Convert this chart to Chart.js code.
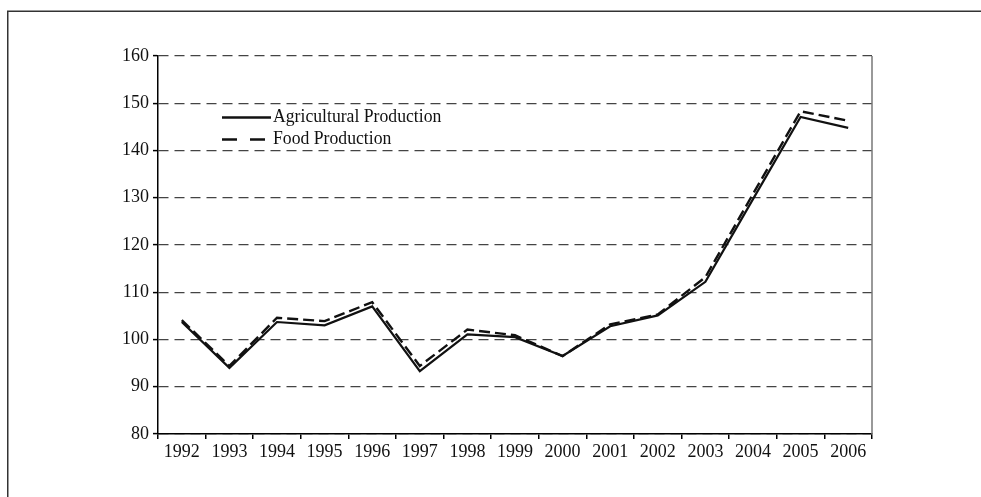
<!DOCTYPE html>
<html>
<head>
<meta charset="utf-8">
<script src="https://cdn.jsdelivr.net/npm/chart.js@4/dist/chart.umd.min.js"></script>
<style>
html,body{margin:0;padding:0;background:#fff;}
#wrap{position:relative;width:981px;height:497px;}
canvas{display:block;}
</style>
</head>
<body>
<div id="wrap"><canvas id="c" width="981" height="497"></canvas></div>
<script>
const years = ['1992','1993','1994','1995','1996','1997','1998','1999','2000','2001','2002','2003','2004','2005','2006'];
const agricultural = [103.7, 94.0, 103.7, 103.0, 107.0, 93.3, 101.1, 100.5, 96.5, 102.8, 105.1, 112.2, 129.7, 147.1, 144.8];
const food = [104.1, 94.4, 104.6, 103.9, 107.9, 94.4, 102.1, 100.9, 96.5, 103.2, 105.3, 113.2, 130.8, 148.3, 146.3];
const seriesNames = ['Agricultural Production', 'Food Production'];
const yTicks = [80, 90, 100, 110, 120, 130, 140, 150, 160];

const FONT = 'Liberation Serif';

const framePlugin = {
  id: 'frame',
  beforeDraw(chart) {
    const ctx = chart.ctx;
    ctx.save();
    ctx.fillStyle = '#fff';
    ctx.fillRect(0, 0, chart.width, chart.height);
    ctx.strokeStyle = '#333';
    ctx.lineWidth = 1.5;
    ctx.beginPath();
    ctx.moveTo(7.75, chart.height);
    ctx.lineTo(7.75, 11.25);
    ctx.lineTo(chart.width, 11.25);
    ctx.stroke();
    ctx.restore();
  },
  afterDraw(chart) {
    const ctx = chart.ctx;
    const a = chart.chartArea;
    ctx.save();
    ctx.strokeStyle = '#777';
    ctx.lineWidth = 1.5;
    ctx.beginPath();
    ctx.moveTo(a.right, a.top);
    ctx.lineTo(a.right, a.bottom);
    ctx.stroke();
    // legend
    const items = chart.data.datasets;
    const x0 = 222, x1 = 271;
    const ys = [117.5, 139.5];
    items.forEach((ds, i) => {
      ctx.strokeStyle = ds.borderColor;
      ctx.lineWidth = 2.6;
      ctx.setLineDash(i === 0 ? [] : [15, 13]);
      ctx.beginPath();
      ctx.moveTo(x0, ys[i]);
      ctx.lineTo(x1, ys[i]);
      ctx.stroke();
      ctx.setLineDash([]);
      ctx.save();
      ctx.translate(273, ys[i] + 4.5);
      ctx.scale(0.93, 1);
      ctx.fillStyle = '#111';
      ctx.font = '19px "' + FONT + '"';
      ctx.textBaseline = 'alphabetic';
      ctx.fillText(ds.label, 0, 0);
      ctx.restore();
    });
    ctx.restore();
  }
};

new Chart(document.getElementById('c'), {
  type: 'line',
  data: {
    labels: years,
    datasets: [
      { label: seriesNames[0], data: agricultural, borderColor: '#111', borderWidth: 2.2, pointRadius: 0, tension: 0, fill: false },
      { label: seriesNames[1], data: food, borderColor: '#111', borderWidth: 2.4, borderDash: [11, 5], pointRadius: 0, tension: 0, fill: false }
    ]
  },
  options: {
    responsive: false,
    animation: false,
    devicePixelRatio: 1,
    layout: { padding: { top: 56, right: 109, bottom: 0, left: 0 } },
    plugins: { legend: { display: false }, tooltip: { enabled: false }, title: { display: false } },
    scales: {
      x: {
        type: 'category',
        offset: true,
        afterFit(s) { s.height = 63; },
        grid: { offset: true, drawOnChartArea: false, drawTicks: true, tickLength: 5, color: '#000', lineWidth: 1.5 },
        border: { display: true, color: '#000', width: 1.5 },
        ticks: { color: '#111', font: { family: FONT, size: 18 }, padding: 2, maxRotation: 0, autoSkip: false }
      },
      y: {
        min: 80, max: 160,
        afterFit(s) { s.width = 158; },
        afterBuildTicks(s) { s.ticks = yTicks.map(v => ({ value: v })); },
        grid: { color: '#444', lineWidth: 1.2, tickLength: 5, tickColor: '#000', tickBorderDash: [], tickWidth: 1.5 },
        border: { display: true, color: '#000', width: 1.5, dash: [10, 6] },
        ticks: { color: '#111', font: { family: FONT, size: 18 }, padding: 4 }
      }
    }
  },
  plugins: [framePlugin]
});
</script>
</body>
</html>
